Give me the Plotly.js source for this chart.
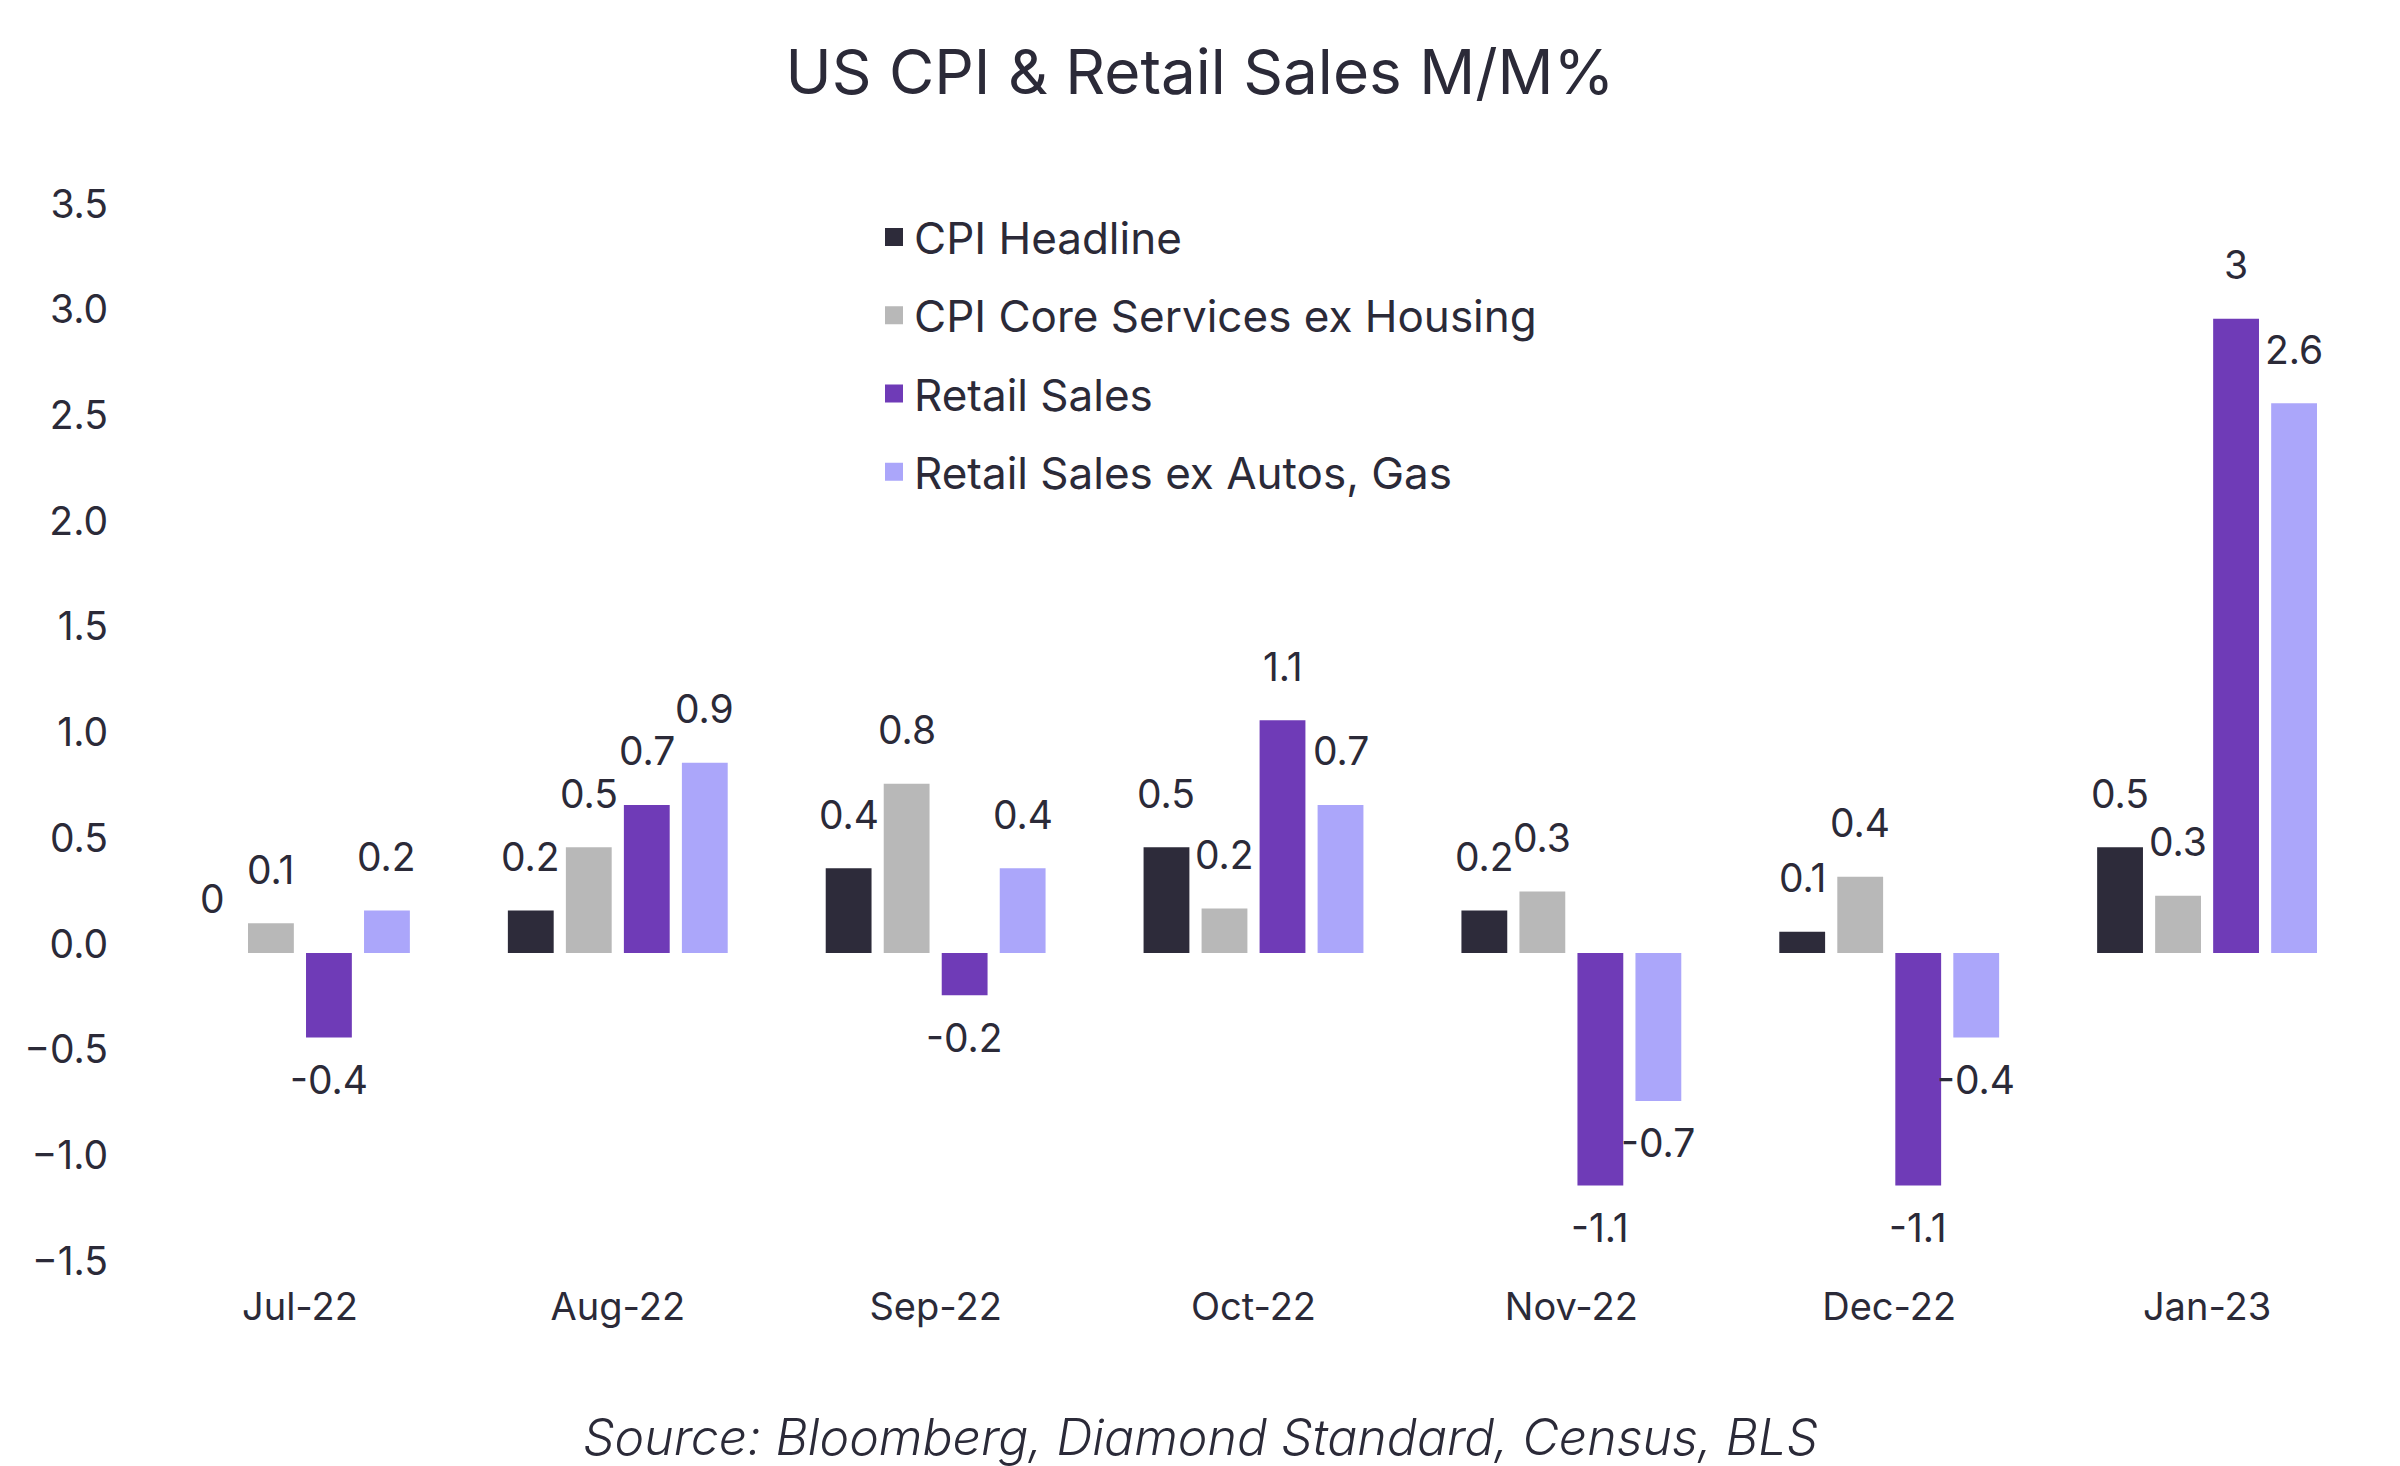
<!DOCTYPE html>
<html>
<head>
<meta charset="utf-8">
<script src="https://cdn.plot.ly/plotly-3.0.1.min.js"></script>
<style>html,body{margin:0;padding:0;background:#fff;}#chart{width:2400px;height:1466px;}</style>
</head>
<body>
<div id="chart"></div>
<script>
const months = ["Jul-22","Aug-22","Sep-22","Oct-22","Nov-22","Dec-22","Jan-23"];
const seriesNames = ["CPI Headline","CPI Core Services ex Housing","Retail Sales","Retail Sales ex Autos, Gas"];
const cpiHeadline = [0, 0.2, 0.4, 0.5, 0.2, 0.1, 0.5];
const cpiCoreSvcExHousing = [0.14, 0.5, 0.8, 0.21, 0.29, 0.36, 0.27];
const retailSales = [-0.4, 0.7, -0.2, 1.1, -1.1, -1.1, 3.0];
const retailExAutosGas = [0.2, 0.9, 0.4, 0.7, -0.7, -0.4, 2.6];
const seriesColors = ["#2d2b3a","#b8b8b8","#6f3bb7","#aba6fa"];
const yTicks = [-1.5,-1.0,-0.5,0.0,0.5,1.0,1.5,2.0,2.5,3.0,3.5];

const allSeries = [cpiHeadline, cpiCoreSvcExHousing, retailSales, retailExAutosGas];
const FONT = "Inter, 'Open Sans', sans-serif";
const TXT = "#2b2a38";
const BARGAP = 0.27, GROUPGAP = 0.21;

const traces = allSeries.map((vals, k) => ({
  type: "bar",
  name: seriesNames[k],
  x: months,
  y: vals,
  marker: {color: seriesColors[k], line: {width: 0}},
  showlegend: false,
  hoverinfo: "x+y+name"
}));
// legend-only entries with larger square swatches
seriesNames.forEach((nm, k) => {
  traces.push({
    type: "scatter", mode: "markers", name: nm, x: [null], y: [null],
    marker: {symbol: "square", size: 16, color: seriesColors[k], line: {width: 2, color: seriesColors[k]}},
    legendgroup: "g" + k, showlegend: true, hoverinfo: "skip"
  });
});

// value labels, placed via the axis (category index + group offset)
const nS = allSeries.length;
const slot = (1 - BARGAP) / nS;
const fmt = v => { const r = Math.round(v * 10) / 10; return (Object.is(r, -0) ? 0 : r).toString(); };
const annotations = [];
allSeries.forEach((vals, k) => {
  vals.forEach((v, i) => {
    annotations.push({
      x: i - (1 - BARGAP) / 2 + slot * (k + 0.5),
      y: v,
      xref: "x", yref: "y",
      text: fmt(v),
      showarrow: false,
      xanchor: "center", yanchor: "middle",
      yshift: v >= 0 ? 54 : -42,
      font: {family: FONT, size: 39, color: TXT}
    });
  });
});
annotations.push({
  text: "Source: Bloomberg, Diamond Standard, Census, BLS",
  xref: "paper", yref: "paper", x: (1200 - 141) / 2225, y: -0.158,
  xanchor: "center", yanchor: "middle", showarrow: false,
  font: {family: FONT, size: 50, color: TXT, style: "italic", weight: 300}
});

const layout = {
  width: 2400, height: 1466,
  paper_bgcolor: "#ffffff", plot_bgcolor: "#ffffff",
  margin: {l: 141, r: 34, t: 213, b: 196},
  title: {text: "US CPI & Retail Sales M/M%", x: 0.5, xref: "container", xanchor: "center",
          y: 1 - 72 / 1466, yref: "container", yanchor: "middle",
          font: {family: FONT, size: 62, color: TXT}},
  barmode: "group", bargap: BARGAP, bargroupgap: GROUPGAP,
  font: {family: FONT, color: TXT},
  xaxis: {type: "category", showgrid: false, zeroline: false, showline: false, ticks: "",
          ticklabelstandoff: 11,
          tickfont: {family: FONT, size: 38, color: TXT}, range: [-0.5, 6.5], fixedrange: true},
  yaxis: {range: [-1.5, 3.5], tickvals: yTicks, tickformat: ".1f", showgrid: false, zeroline: false,
          showline: false, ticks: "", ticklabelstandoff: 32, ticklabelshift: -9,
          tickfont: {family: FONT, size: 39, color: TXT}, fixedrange: true},
  legend: {x: (874 - 141) / 2225, xanchor: "left", y: 1 + (213 - 202) / 1057, yanchor: "top",
           bgcolor: "rgba(0,0,0,0)", traceorder: "grouped", tracegroupgap: 18,
           font: {family: FONT, size: 44, color: TXT}},
  showlegend: true,
  annotations: annotations
};

Plotly.newPlot("chart", traces, layout, {displayModeBar: false, staticPlot: true});
</script>
</body>
</html>
